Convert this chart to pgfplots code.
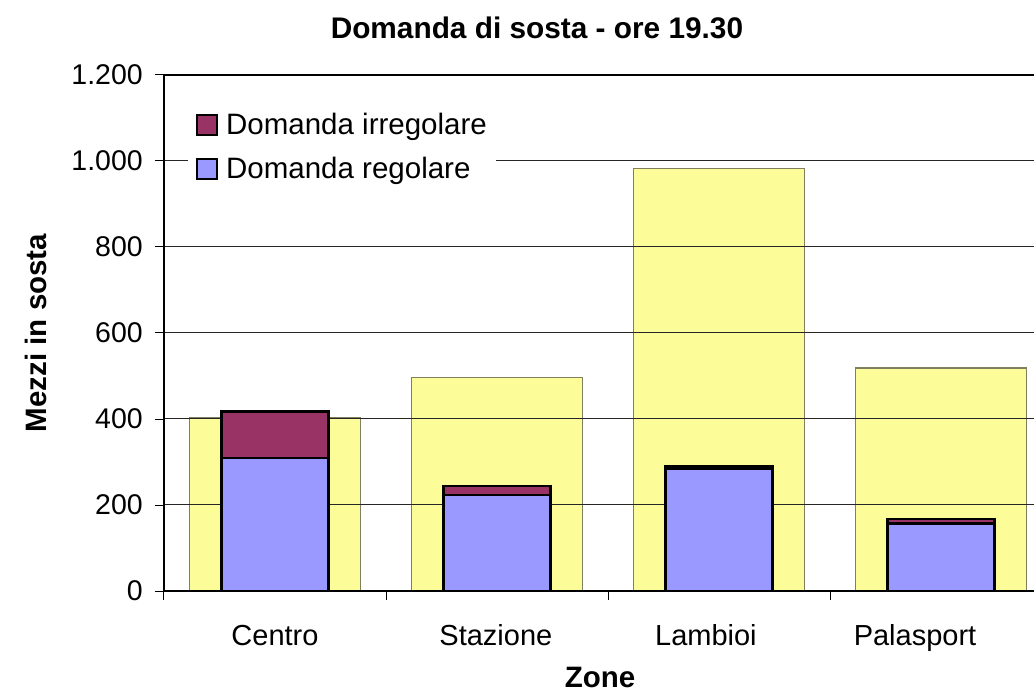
\documentclass[border=0pt]{standalone}
\usepackage{fontspec}
\setmainfont{Liberation Sans}
\usepackage{pgfplots}
\pgfplotsset{compat=1.18}
\definecolor{capy}{RGB}{252,252,153}
\definecolor{capedge}{RGB}{128,128,96}
\definecolor{reg}{RGB}{153,153,255}
\definecolor{irr}{RGB}{153,51,102}
\newcommand{\fs}{\fontsize{29bp}{34bp}\selectfont}
\newcommand{\fsy}{\fontsize{28.5bp}{34bp}\selectfont}
\newcommand{\fsl}{\fontsize{29.5bp}{34bp}\selectfont}
\newcommand{\fst}{\fontsize{29.8bp}{34bp}\selectfont\bfseries}
\newcommand{\fsa}{\fontsize{29.5bp}{34bp}\selectfont\bfseries}
\begin{document}
\begin{tikzpicture}
\pgfplotsset{
  common/.style={
    scale only axis, width=888bp, height=516bp,
    xmin=-0.5, xmax=3.5, ymin=0, ymax=1200,
    at={(0,0)}, anchor=south west,
  }
}
\begin{axis}[common, axis on top,
  axis line style={draw=none},
  xtick=\empty, ytick={200,400,600,800,1000}, yticklabels={},
  major tick length=0pt,
  ymajorgrids, grid style={line width=1bp, black!85}]
\addplot[ybar, bar width=171bp, bar shift=0pt, fill=capy, draw=capedge, line width=1.5bp]
  coordinates {(0,403) (1,497) (2,983) (3,519)};
\end{axis}
\begin{axis}[common, ybar stacked, bar width=107bp,
  axis line style={line width=2.5bp, black},
  xtick={-0.5,0.5,1.5,2.5,3.5}, xticklabels={},
  extra x ticks={0,0.995,1.941,2.883},
  extra x tick labels={Centro,Stazione,Lambioi,Palasport},
  extra x tick style={major tick length=0pt, tick style={draw=none}},
  ytick={0,200,400,600,800,1000,1200},
  yticklabels={0,200,400,600,800,1.000,1.200},
  xtick pos=bottom, ytick pos=left, tick align=outside,
  major tick length=9bp,
  tick style={line width=1bp, black},
  xticklabel style={font=\fs, anchor=base, inner sep=0pt, yshift=-54bp},
  yticklabel style={font=\fsy, anchor=east, inner sep=0pt, xshift=-12bp},
  title={Domanda di sosta - ore 19.30},
  title style={font=\fst, at={(rel axis cs:0.42,1)}, anchor=center, yshift=41bp},
  xlabel={Zone},
  xlabel style={font=\fsa, at={(rel axis cs:0.491,0)}, anchor=center, yshift=-86bp},
  ylabel={Mezzi in sosta},
  ylabel style={font=\fsa, at={(rel axis cs:-0.1441,0.5)}, anchor=center},
  reverse legend,
  legend cell align=left,
  legend image code/.code={\draw[#1, line width=2bp] (0bp,-10bp) rectangle (20bp,10bp);},
  legend style={at={(rel axis cs:0.027,0.95)}, anchor=north west, fill=white, draw=none,
    font=\fsl, inner xsep=8bp, inner ysep=2bp,
    nodes={inner xsep=1bp, inner ysep=10.5bp},
    /tikz/every odd column/.style={column sep=7bp}},
]
\addplot[fill=reg, draw=black, line width=2.5bp] coordinates {(0,309) (1,223) (2,285) (3,157)};
\addplot[fill=irr, draw=black, line width=2.5bp] coordinates {(0,108) (1,21) (2,5) (3,10)};
\legend{Domanda regolare, Domanda irregolare}
\end{axis}
\pgfresetboundingbox
\path[use as bounding box] (-164bp,-102bp) rectangle (870bp,591bp);
\end{tikzpicture}
\end{document}
